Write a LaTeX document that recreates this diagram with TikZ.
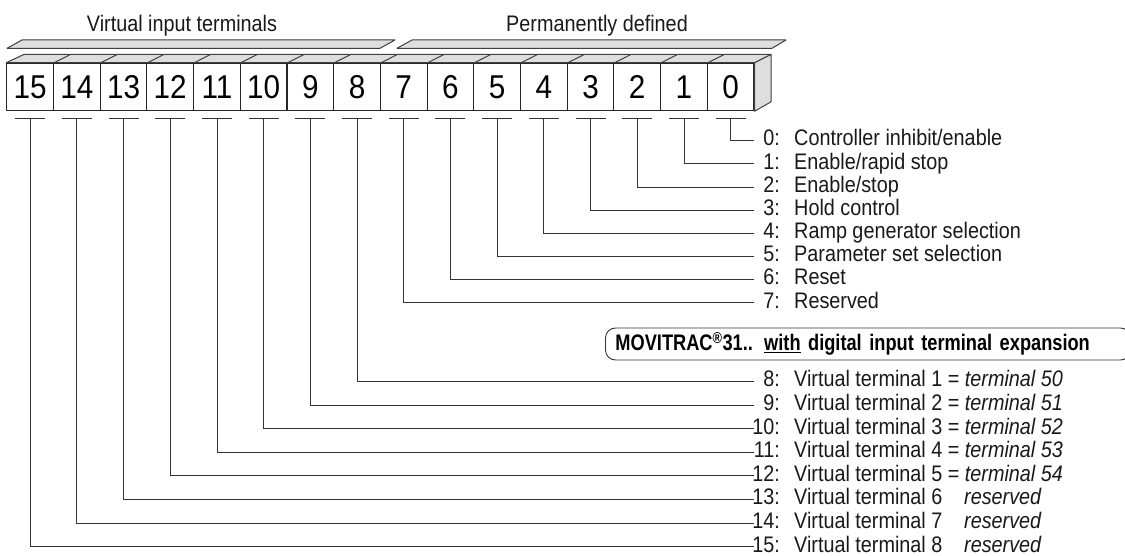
\documentclass[tikz,border=0pt]{standalone}
\usepackage{fontspec}
\setmainfont{Liberation Sans}[FakeStretch=0.88, BoldFeatures={FakeStretch=0.81}]
\newfontfamily\bitfont{Liberation Sans}[FakeStretch=0.9]

\begin{document}
\begin{tikzpicture}[
    x=1pt, y=-1pt,
    font=\fontsize{22.5}{26}\selectfont,
    bitbox/.style={draw=black!85, fill=white, line width=1.1pt, minimum width=46.7pt, minimum height=47.4pt, inner sep=0pt, font=\bitfont\fontsize{33}{38}\selectfont},
    face/.style={draw=black!75, fill=black!13, line width=1pt, line join=round},
    wire/.style={draw=black!80, line width=0.9pt},
    header/.style={anchor=base, inner sep=0pt, text=black!90},
    numlabel/.style={anchor=base east, inner sep=0pt, text=black!90},
    textlabel/.style={anchor=base west, inner sep=0pt, text=black!90},
    banner/.style={draw=black!80, line width=0.9pt, rounded corners=10pt, anchor=west, minimum height=32pt, text width=505pt, inner xsep=10pt, align=left, font=\fontsize{22.5}{26}\selectfont\bfseries}
  ]
    \useasboundingbox (0,0) rectangle (1125,556);
    % headers and brackets
    \node[header] (virt) at (182,31.7) {Virtual input terminals};
    \node[header] (perm) at (597,31.7) {Permanently defined};
    \draw[face] (7,48.3) -- (22,40) -- (395,40) -- (380,48.3) -- cycle;
    \draw[face] (397,48.3) -- (412,40) -- (786,40) -- (772,48.3) -- cycle;
    % register bits
    \foreach \i in {0,...,15} {
      \node[bitbox] (b\i) at (730.65-46.7*\i,87) {\i};
    }
    \draw[face] (b15.north west) -- (b0.north east) -- ++(16.5,-8.3) -- ++(-747.2,0) -- cycle;
    \draw[face] (b0.north east) -- ++(16.5,-8.3) -- ++(0,47.4) -- (b0.south east) -- cycle;
    \foreach \i in {1,...,15} {
      \draw[face] (b\i.north east) -- ++(16.5,-8.3);
    }
    % bit meanings
    \foreach \i/\yy/\txt in {0/140.7/{Controller inhibit/enable}, 1/163.9/{Enable/rapid stop},
        2/187/{Enable/stop}, 3/210.2/{Hold control}, 4/233.3/{Ramp generator selection},
        5/256.5/{Parameter set selection}, 6/279.6/{Reset}, 7/302.8/{Reserved},
        8/381.5/{Virtual terminal 1 = \textit{terminal 50}}, 9/405.1/{Virtual terminal 2 = \textit{terminal 51}},
        10/428.7/{Virtual terminal 3 = \textit{terminal 52}}, 11/452.3/{Virtual terminal 4 = \textit{terminal 53}},
        12/475.9/{Virtual terminal 5 = \textit{terminal 54}}, 13/499.5/{Virtual terminal 6},
        14/523.1/{Virtual terminal 7}, 15/546.7/{Virtual terminal 8}} {
      \coordinate (t\i) at ([yshift=-7.3pt]b\i.south);
      \coordinate (e\i) at (754,\yy);
      \draw[wire] ([xshift=-15pt]t\i) -- ([xshift=15pt]t\i);
      \draw[wire] (t\i) |- (e\i);
      \node[numlabel] (n\i) at (780,\yy+5.3) {\i:};
      \node[textlabel] (l\i) at (794,\yy+5.3) {\txt};
    }
    \foreach \i in {13,14,15} {
      \node[textlabel] (r\i) at (964,0 |- l\i.base) {\textit{reserved}};
    }
    \node[banner] (ext) at (605,344) {MOVITRAC\textsuperscript{®}31.. \underline{with} digital input terminal expansion};
  \end{tikzpicture}
\end{document}
